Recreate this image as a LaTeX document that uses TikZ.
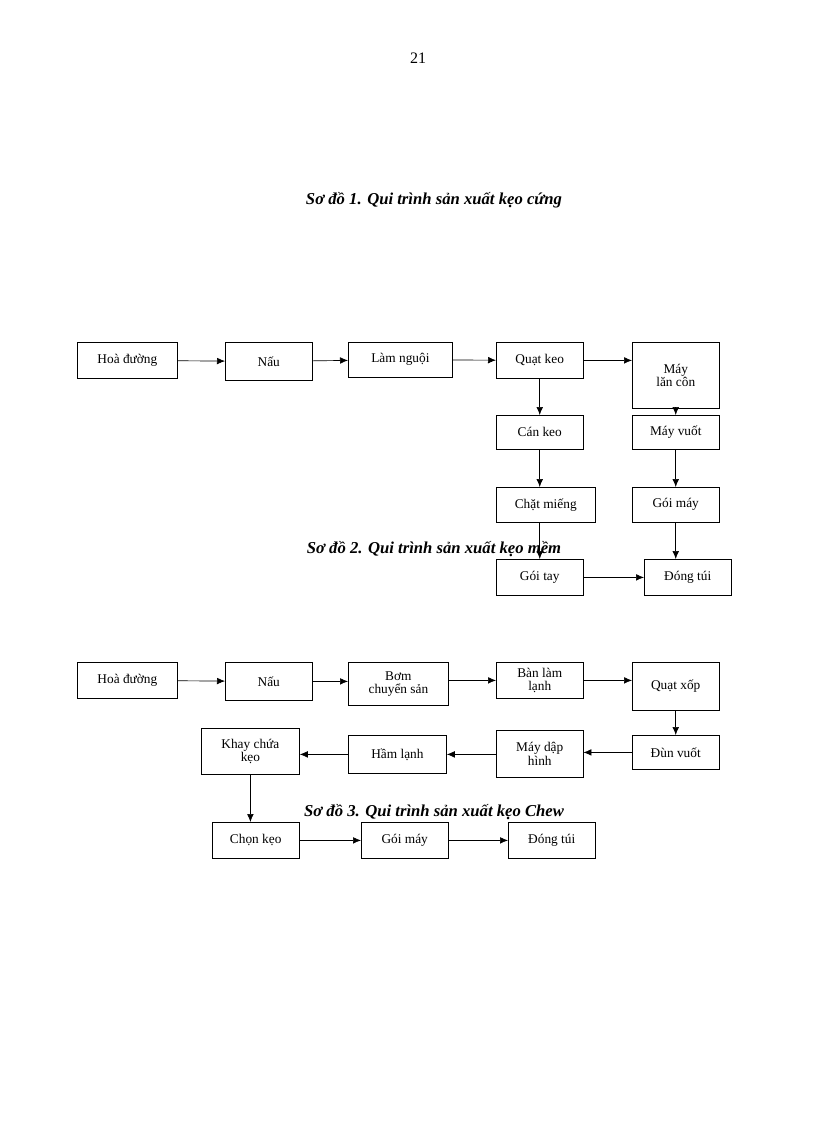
\documentclass[tikz,border=0pt]{standalone}
\usepackage{fontspec}
\setmainfont{Liberation Serif}
\usetikzlibrary{arrows.meta}
\tikzset{
  box/.style={draw, line width=0.6pt, anchor=north west, align=center, font=\fontsize{10}{10}\selectfont, inner sep=1pt},
  flow/.style={-{Latex[length=6pt,width=5pt]}, line width=0.5pt},
  title/.style={font=\fontsize{12.5}{13}\selectfont\bfseries\itshape}
}
\begin{document}
\begin{tikzpicture}[x=0.75pt, y=-0.75pt]
    \useasboundingbox (0,0) rectangle (816,1123);
    \node[font=\fontsize{12}{12}\selectfont] (page) at (418,58) {21};

    % Sơ đồ 1
    \node[title] (t1) at (434,200) {Sơ đồ 1. Qui trình sản xuất kẹo cứng};
    \node[box, minimum width=75pt, minimum height=27pt] (hd1) at (77,342) {Hoà đường};
    \node[box, minimum width=65pt, minimum height=28.5pt] (nau1) at (225,342) {Nấu};
    \node[box, minimum width=78pt, minimum height=26pt] (ln) at (348,342) {Làm nguội};
    \node[box, minimum width=65pt, minimum height=27pt] (qk) at (496,342) {Quạt keo};
    \node[box, minimum width=65pt, minimum height=49.5pt] (mlc) at (632,342) {Máy\\lăn côn};
    \node[box, minimum width=65pt, minimum height=25.5pt] (ck) at (496,415) {Cán keo};
    \node[box, minimum width=65pt, minimum height=25.5pt] (mv) at (632,415) {Máy vuốt};
    \node[box, minimum width=74pt, minimum height=26pt] (cm) at (496,487) {Chặt miếng};
    \node[box, minimum width=65pt, minimum height=26pt] (gm1) at (632,487) {Gói máy};
    \node[box, minimum width=65pt, minimum height=27pt] (gt) at (496,559) {Gói tay};
    \node[box, minimum width=65pt, minimum height=27pt] (dt1) at (644,559) {Đóng túi};

    \draw[flow] (hd1) -- (nau1);
    \draw[flow] (nau1) -- (ln);
    \draw[flow] (ln) -- (qk);
    \draw[flow] (qk) -- (mlc.west |- qk.east);
    \draw[flow] (qk) -- (ck);
    \draw[flow] (ck) -- (ck.south |- cm.north);
    \draw[flow] (gt.north |- cm.south) -- (gt);
    \draw[flow] (mlc) -- (mv);
    \draw[flow] (mv) -- (gm1);
    \draw[flow] (gm1) -- (gm1.south |- dt1.north);
    \draw[flow] (gt) -- (dt1.west |- gt.east);

    % Sơ đồ 2
    \node[title] (t2) at (434,549) {Sơ đồ 2. Qui trình sản xuất kẹo mềm};
    \node[box, minimum width=75pt, minimum height=27pt] (hd2) at (77,662) {Hoà đường};
    \node[box, minimum width=65pt, minimum height=28.5pt] (nau2) at (225,662) {Nấu};
    \node[box, minimum width=75pt, minimum height=32pt] (bcs) at (348,662) {Bơm\\chuyển sản};
    \node[box, minimum width=65pt, minimum height=27pt] (bll) at (496,662) {Bàn làm\\lạnh};
    \node[box, minimum width=65pt, minimum height=36pt] (qx) at (632,662) {Quạt xốp};
    \node[box, minimum width=65pt, minimum height=25.5pt] (dv) at (632,735) {Đùn vuốt};
    \node[box, minimum width=65pt, minimum height=35pt] (mdh) at (496,730) {Máy dập\\hình};
    \node[box, minimum width=73.5pt, minimum height=28.5pt] (hl) at (348,735) {Hầm lạnh};
    \node[box, minimum width=73.5pt, minimum height=34.5pt] (kck) at (201,728) {Khay chứa\\kẹo};

    \draw[flow] (hd2) -- (nau2);
    \draw[flow] (nau2) -- (bcs.west |- nau2.east);
    \draw[flow] (bcs.east |- bll.west) -- (bll);
    \draw[flow] (bll) -- (qx.west |- bll.east);
    \draw[flow] (qx) -- (dv);
    \draw[flow] (dv) -- (mdh.east |- dv.west);
    \draw[flow] (mdh.west |- hl.east) -- (hl);
    \draw[flow] (hl) -- (kck.east |- hl.west);

    % Sơ đồ 3
    \node[title] (t3) at (434,812) {Sơ đồ 3. Qui trình sản xuất kẹo Chew};
    \node[box, minimum width=65pt, minimum height=27pt] (chk) at (212,822) {Chọn kẹo};
    \node[box, minimum width=65pt, minimum height=27pt] (gm3) at (361,822) {Gói máy};
    \node[box, minimum width=65pt, minimum height=27pt] (dt3) at (508,822) {Đóng túi};

    \draw[flow] (kck) -- (kck.south |- chk.north);
    \draw[flow] (chk) -- (gm3);
    \draw[flow] (gm3) -- (dt3);
\end{tikzpicture}
\end{document}
